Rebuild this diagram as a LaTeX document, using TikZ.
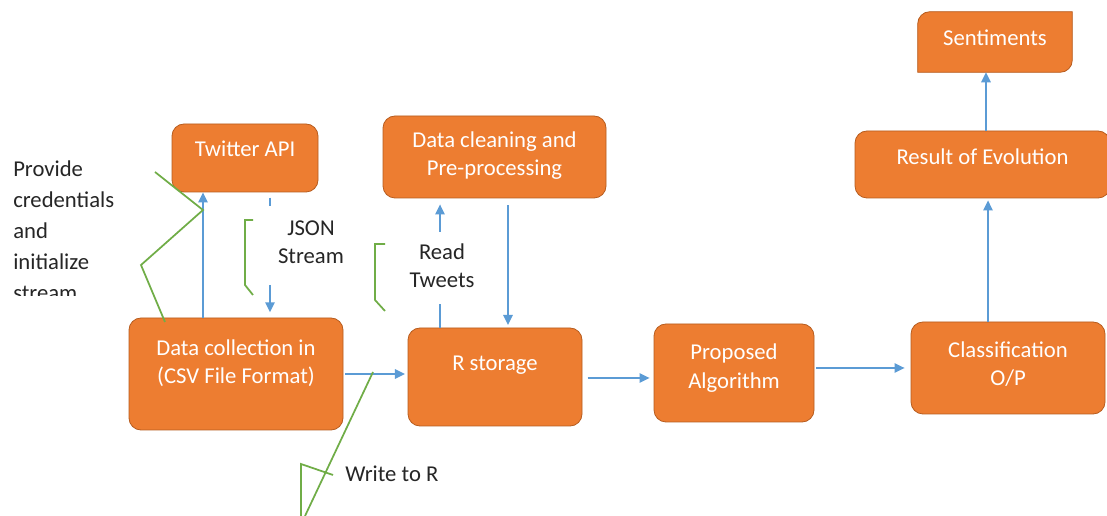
\documentclass[tikz,border=0pt]{standalone}
\usepackage{fontspec}
\setmainfont{Carlito}
\usetikzlibrary{arrows.meta,backgrounds}
\definecolor{boxfill}{RGB}{237,125,49}
\definecolor{boxedge}{RGB}{183,92,30}
\definecolor{pfeilblau}{RGB}{91,155,213}
\definecolor{klammer}{RGB}{112,173,71}
\definecolor{schrift}{RGB}{38,38,38}

\tikzset{
	box/.style={rectangle, rounded corners=9pt, fill=boxfill, draw=boxedge, line width=0.6pt},
	boxtxt/.style={text=white, align=center, inner sep=0pt, font=\fontsize{17}{21.5}\selectfont},
	txt/.style={text=schrift, align=center, inner sep=0pt, font=\fontsize{17}{21}\selectfont},
	pf/.style={pfeilblau, line width=1.3pt, -{Triangle[length=7.5pt,width=7pt]}},
	ln/.style={pfeilblau, line width=1.3pt},
	kl/.style={klammer, line width=1.3pt},
}

\begin{document}
\begin{tikzpicture}[x=0.75pt, y=-0.75pt]

	\useasboundingbox (0,0) rectangle (1107,516);

	% boxes
	\node[box, minimum width=109.5pt, minimum height=51pt, label={[boxtxt,yshift=7pt]center:Twitter API}] (api) at (245,158) {};
	\node[box, minimum width=167.25pt, minimum height=61.5pt, label={[boxtxt,yshift=1pt]center:{Data cleaning and\\Pre-processing}}] (clean) at (494.5,157) {};
	\node[box, minimum width=160.5pt, minimum height=84pt, label={[boxtxt,yshift=8pt]center:{Data collection in\\(CSV File Format)}}] (coll) at (236,374) {};
	\node[box, minimum width=130.5pt, minimum height=73.5pt, label={[boxtxt,yshift=9pt]center:R storage}] (rstore) at (495,377) {};
	\node[box, minimum width=120pt, minimum height=73.5pt, label={[boxtxt,yshift=3.75pt]center:{Proposed\\Algorithm}}] (algo) at (734,373) {};
	\node[box, minimum width=145.5pt, minimum height=69pt, label={[boxtxt,yshift=3pt]center:{Classification\\O/P}}] (cls) at (1008,368) {};
	\node[box, minimum width=191.25pt, minimum height=50.25pt, label={[boxtxt,yshift=5.5pt]center:Result of Evolution}] (result) at (982.5,164.5) {};
	\node[minimum width=115.5pt, minimum height=45pt, label={[boxtxt,yshift=3.5pt]center:Sentiments}] (sent) at (995,42) {};
	\begin{scope}[on background layer]
		\fill[white] (0,0) rectangle (1107,516);
		\draw[fill=boxfill, draw=boxedge, line width=0.6pt] (sent.north) -- (sent.north east) -- (sent.east) [rounded corners=9pt] -- (sent.south east) -- (sent.south) [sharp corners] -- (sent.south west) -- (sent.west) [rounded corners=9pt] -- (sent.north west) -- cycle;
	\end{scope}

	% texts beside the arrows (base = last line)
	\begin{scope}
		\clip (0,0) rectangle (135,296);
		\node[txt, align=left, anchor=base west, font=\fontsize{17}{23.25}\selectfont] (cred) at (13,301) {Provide\\credentials\\and\\initialize\\stream};
	\end{scope}
	\node[txt, anchor=base] (json) at (311,264) {JSON\\Stream};
	\node[txt, anchor=base] (read) at (442,288) {Read\\Tweets};
	\node[txt, anchor=base west] (write) at (345,482) {Write to R};

	% arrows
	\draw[pf] (203,0 |- coll.north) -- (203,0 |- api.south);
	\coordinate (js1) at (270,206);
	\coordinate (js2) at (270,285);
	\draw[ln, shorten <=4pt] (270,0 |- api.south) -- (js1);
	\draw[pf, shorten >=4pt] (js2) -- (270,0 |- coll.north);
	\coordinate (rt1) at (440,304);
	\coordinate (rt2) at (440,232);
	\draw[ln] (440,0 |- rstore.north) -- (rt1);
	\draw[pf, shorten >=4.5pt] (rt2) -- (440,0 |- clean.south);
	\draw[pf, shorten <=5pt, shorten >=2pt] (508,0 |- clean.south) -- (508,0 |- rstore.north);
	\draw[pf, shorten <=1.5pt, shorten >=2pt] (coll.east) -- (coll.east -| rstore.west);
	\draw[pf, shorten <=4pt, shorten >=3pt] (rstore.east |- 0,378) -- (algo.west |- 0,378);
	\draw[pf, shorten <=1.5pt, shorten >=4.5pt] (algo.east |- cls.west) -- (cls.west);
	\draw[pf, shorten >=1.5pt] (988,0 |- cls.north) -- (988,0 |- result.south);
	\draw[pf] (986,0 |- result.north) -- (986,0 |- sent.south);

	% green callouts
	\draw[kl] (155,172) -- (203,210) -- (141,265) -- (165,322);
	\draw[kl] (253,220) -- (245,220) -- (245,285) -- (253,295);
	\draw[kl] (385,244) -- (375,244) -- (375,300) -- (385,311);
	\draw[kl] (373,372) -- (305,516);
	\draw[kl] (333,475) -- (301,464) -- (301,516);

\end{tikzpicture}
\end{document}
